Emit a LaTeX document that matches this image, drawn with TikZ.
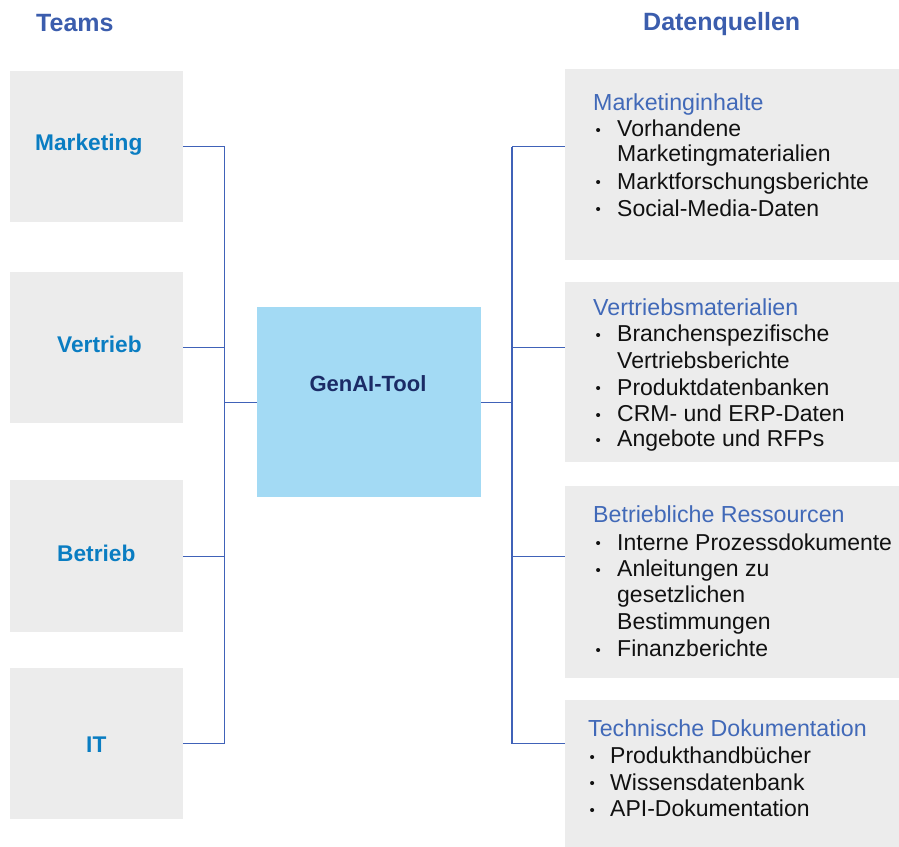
\documentclass[tikz,border=0pt]{standalone}
\usepackage{fontspec}
\setmainfont{Liberation Sans}
\definecolor{ttl}{HTML}{3B5DAD}
\definecolor{lbl}{HTML}{0A7DC2}
\definecolor{ln}{HTML}{4062B8}
\definecolor{gbg}{HTML}{ECECEC}
\definecolor{gen}{HTML}{A3DAF4}
\definecolor{gentx}{HTML}{1B2B66}
\definecolor{hd}{HTML}{4169B8}
\definecolor{tx}{HTML}{111111}
\begin{document}
\begin{tikzpicture}[x=1bp,y=-1bp,
  gbox/.style={fill=gbg,draw=none,inner sep=0,anchor=north west},
  ttltext/.style={inner sep=0,anchor=base west,text=ttl,font=\fontsize{25bp}{30bp}\selectfont\bfseries},
  team/.style={inner sep=0,anchor=base west,text=lbl,font=\fontsize{22.7bp}{27bp}\selectfont\bfseries},
  head/.style={inner sep=0,anchor=base west,text=hd,font=\fontsize{23.2bp}{27bp}\selectfont},
  itm/.style={inner sep=0,anchor=base west,text=tx,font=\fontsize{23bp}{27bp}\selectfont},
  bul/.style={inner sep=0,anchor=base west,text=tx,font=\fontsize{15bp}{18bp}\selectfont,yshift=1.2bp},
  conn/.style={draw=ln,line width=1.4bp}]
\useasboundingbox (0,0) rectangle (899,847);
% titles
\node[ttltext] (tteams) at (36,31.7) {Teams};
\node[ttltext] (tdaten) at (643,30) {Datenquellen};
% left boxes
\node[gbox,minimum width=173bp,minimum height=151bp] (lm) at (10,71) {};
\node[gbox,minimum width=173bp,minimum height=151bp] (lv) at (10,272) {};
\node[gbox,minimum width=173bp,minimum height=152bp] (lb) at (10,480) {};
\node[gbox,minimum width=173bp,minimum height=151bp] (li) at (10,668) {};
\node[team] (tm) at (35,150) {Marketing};
\node[team] (tv) at (57,352) {Vertrieb};
\node[team] (tb) at (57,561.7) {Betrieb};
\node[team] (ti) at (86,752.7) {IT};
% center
\node[fill=gen,draw=none,inner sep=0,anchor=north west,minimum width=224bp,minimum height=190bp] (g) at (257,307) {};
\node[inner sep=0,anchor=base,text=gentx,font=\fontsize{22bp}{26bp}\selectfont\bfseries] (gt) at (368,391) {GenAI-Tool};
% right boxes
\node[gbox,minimum width=334bp,minimum height=191bp] (r1) at (565,69) {};
\node[gbox,minimum width=334bp,minimum height=180bp] (r2) at (565,282) {};
\node[gbox,minimum width=334bp,minimum height=192bp] (r3) at (565,486) {};
\node[gbox,minimum width=334bp,minimum height=147bp] (r4) at (565,700) {};
% bus coordinates
\coordinate (bl) at (224.5,0);
\coordinate (br) at (512,0);
% left connectors
\draw[conn] (lm.east) -- (lm.east -| bl);
\draw[conn] (lv.east) -- (lv.east -| bl);
\draw[conn] (lb.east) -- (lb.east -| bl);
\draw[conn] (li.east) -- (li.east -| bl);
\draw[conn] (lm.east -| bl) -- (li.east -| bl);
\draw[conn] (g.west -| bl) -- (g.west);
% right connectors
\draw[conn] (g.east) -- (g.east -| br);
\draw[conn] (lm.east -| br) -- (li.east -| br);
\draw[conn] (lm.east -| br) -- (lm.east -| r1.west);
\draw[conn] (lv.east -| br) -- (lv.east -| r2.west);
\draw[conn] (lb.east -| br) -- (lb.east -| r3.west);
\draw[conn] (li.east -| br) -- (li.east -| r4.west);
% box 1
\node[head] (h1) at (593,110) {Marketinginhalte};
\node[bul] (b11) at (595.5,136.7) {•};
\node[itm] (i11) at (617,136.7) {Vorhandene};
\node[itm] (i12) at (617,161.7) {Marketingmaterialien};
\node[bul] (b13) at (595.5,189) {•};
\node[itm] (i13) at (617,189) {Marktforschungsberichte};
\node[bul] (b14) at (595.5,216) {•};
\node[itm] (i14) at (617,216) {Social-Media-Daten};
% box 2
\node[head] (h2) at (593,315) {Vertriebsmaterialien};
\node[bul] (b21) at (595.5,341.7) {•};
\node[itm] (i21) at (617,341.7) {Branchenspezifische};
\node[itm] (i22) at (617,368.3) {Vertriebsberichte};
\node[bul] (b23) at (595.5,395) {•};
\node[itm] (i23) at (617,395) {Produktdatenbanken};
\node[bul] (b24) at (595.5,421.7) {•};
\node[itm] (i24) at (617,421.7) {CRM- und ERP-Daten};
\node[bul] (b25) at (595.5,446.7) {•};
\node[itm] (i25) at (617,446.7) {Angebote und RFPs};
% box 3
\node[head] (h3) at (593,522.7) {Betriebliche Ressourcen};
\node[bul] (b31) at (595.5,550) {•};
\node[itm] (i31) at (617,550) {Interne Prozessdokumente};
\node[bul] (b32) at (595.5,576.7) {•};
\node[itm] (i32) at (617,576.7) {Anleitungen zu};
\node[itm] (i33) at (617,602.7) {gesetzlichen};
\node[itm] (i34) at (617,629.3) {Bestimmungen};
\node[bul] (b35) at (595.5,656.7) {•};
\node[itm] (i35) at (617,656.7) {Finanzberichte};
% box 4
\node[head] (h4) at (588,736.7) {Technische Dokumentation};
\node[bul] (b41) at (589.5,763.3) {•};
\node[itm] (i41) at (610,763.3) {Produkthandbücher};
\node[bul] (b42) at (589.5,790) {•};
\node[itm] (i42) at (610,790) {Wissensdatenbank};
\node[bul] (b43) at (589.5,816.7) {•};
\node[itm] (i43) at (610,816.7) {API-Dokumentation};
\end{tikzpicture}
\end{document}
